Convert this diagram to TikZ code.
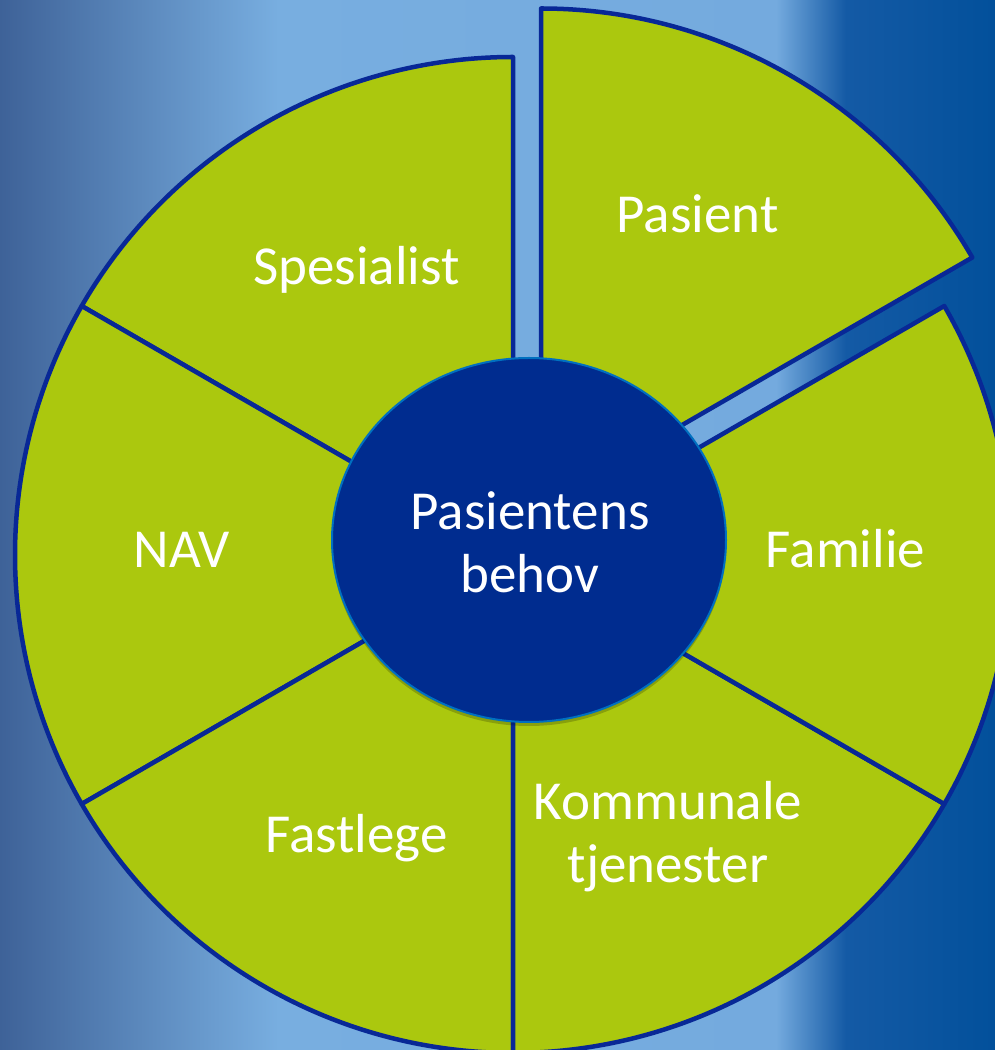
\documentclass[tikz,border=0pt]{standalone}
\usepackage{fontspec}
\setmainfont{Carlito}
\usetikzlibrary{shapes.geometric,shadows}
\definecolor{pgreen}{RGB}{171,200,14}
\definecolor{pline}{RGB}{8,40,150}
\definecolor{pcore}{RGB}{0,44,143}
\definecolor{pring}{RGB}{0,112,192}
\definecolor{bgA}{RGB}{62,98,152}
\definecolor{bgB}{RGB}{120,174,224}
\definecolor{bgC}{RGB}{116,170,222}
\definecolor{bgD}{RGB}{20,90,165}
\definecolor{bgE}{RGB}{2,80,155}
\pgfdeclarehorizontalshading{bgshade}{100bp}{color(0bp)=(bgA); color(25bp)=(bgA); color(39bp)=(bgB); color(64bp)=(bgC); color(67.5bp)=(bgD); color(75bp)=(bgE); color(100bp)=(bgE)}
\begin{document}
\begin{tikzpicture}[x=1pt,y=1pt,
  sect/.style={fill=pgreen, draw=pline, line width=4.5pt, line join=round},
  lbl/.style={text=white, font=\fontsize{55}{63}\selectfont, inner sep=0pt, align=center}]
\useasboundingbox (0,0) rectangle (995,1050);
\begin{scope}
\clip (0,0) rectangle (995,1050);
\fill[shading=bgshade] (0,0) rectangle (995,1050);
\coordinate (O) at (513,495);
\coordinate (P) at (541,543.5);
\foreach \a in {90,150,210,270,330}
  \draw[sect] (O) -- ++(\a:498) arc[start angle=\a, delta angle=60, radius=498] -- cycle;
\draw[sect] (P) -- ++(30:498) arc[start angle=30, end angle=90, radius=498] -- cycle;
\node[ellipse, fill=pcore, draw=pring, line width=2pt, minimum width=394pt, minimum height=364pt, inner sep=0pt,
  drop shadow={shadow xshift=0pt, shadow yshift=-4pt, opacity=0.2, fill=black}] (core) at (529,510) {};
\node[lbl] (behov) at (530,508) {Pasientens\\behov};
\node[lbl, anchor=base] (pasient) at (697.5,817) {Pasient};
\node[lbl, anchor=base] (spes) at (356.5,765) {Spesialist};
\node[lbl, anchor=base] (nav) at (182,482) {NAV};
\node[lbl, anchor=base] (fam) at (845.5,482) {Familie};
\node[lbl, anchor=base] (fast) at (356.5,197) {Fastlege};
\node[lbl] (komm) at (668,213) {Kommunale\\tjenester};
\end{scope}
\end{tikzpicture}
\end{document}
